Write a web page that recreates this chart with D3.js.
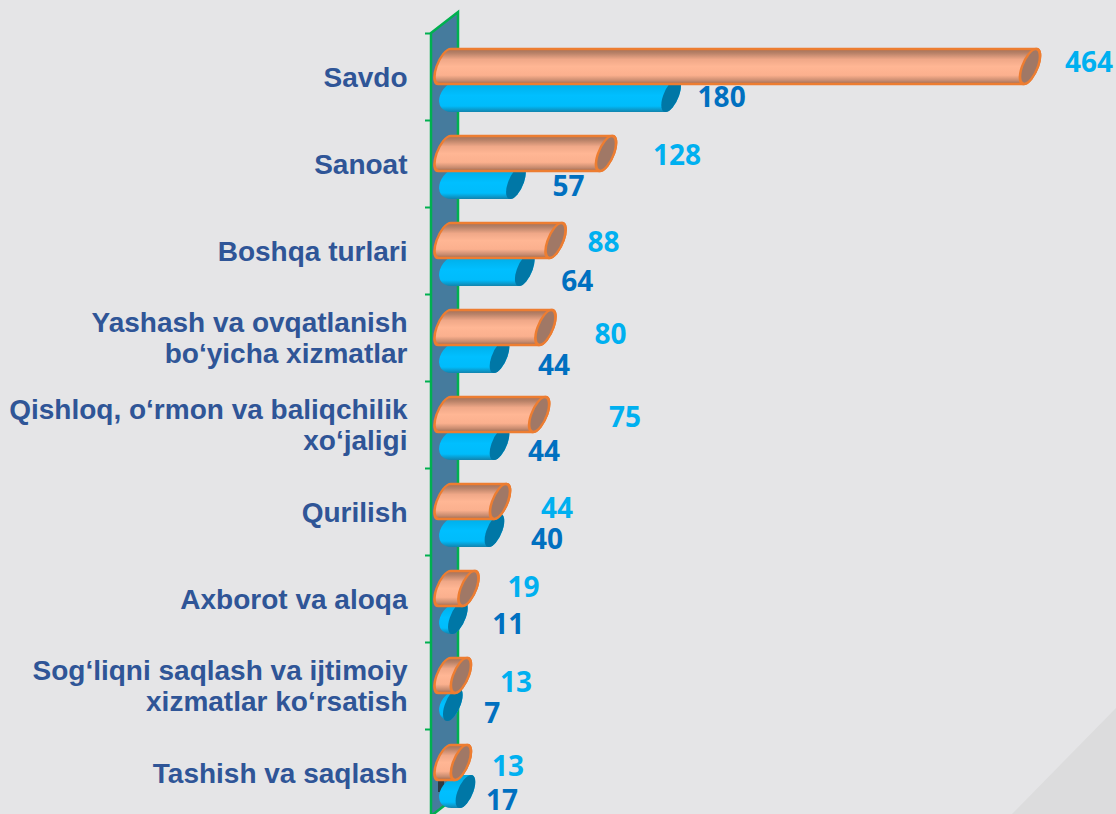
<!DOCTYPE html>
<html>
<head>
<meta charset="utf-8">
<script src="https://cdnjs.cloudflare.com/ajax/libs/d3/7.8.5/d3.min.js"></script>
<style>
  html, body { margin: 0; padding: 0; background: #e5e5e7; overflow: hidden; }
  svg { display: block; }
</style>
</head>
<body>
<svg id="chart" width="1116" height="814"></svg>
<script>
const categories = [
  ["Savdo"],
  ["Sanoat"],
  ["Boshqa turlari"],
  ["Yashash va ovqatlanish", "bo‘yicha xizmatlar"],
  ["Qishloq, o‘rmon va baliqchilik", "xo‘jaligi"],
  ["Qurilish"],
  ["Axborot va aloqa"],
  ["Sog‘liqni saqlash va ijtimoiy", "xizmatlar ko‘rsatish"],
  ["Tashish va saqlash"]
];
const orangeValues = [464, 128, 88, 80, 75, 44, 19, 13, 13];
const blueValues = [180, 57, 64, 44, 44, 40, 11, 7, 17];

// labels were placed by hand in the original, so they need nudging
const orangeNudge = [[59, -5], [71, 1], [48, 1], [65, 6], [86, 2], [57, 6], [55, -2], [55, 6], [47, 3]];
const blueNudge = [[50, 1], [52, 3], [52, 11], [54, 8], [44, 7], [52, 8], [50, 6], [39, 8], [36, 8]];

const width = 1116, height = 814;
const svg = d3.select("#chart");

const x = d3.scaleLinear().domain([0, 464]).range([444.5, 1030]);
const y = d3.scaleBand().domain(d3.range(categories.length)).range([33, 816]);
const tickY = d3.scaleLinear().domain([0, categories.length]).range([33, 816]);

const defs = svg.append("defs");

function gradient(id, stops) {
  const g = defs.append("linearGradient").attr("id", id)
    .attr("x1", 0).attr("y1", 0).attr("x2", 0).attr("y2", 1);
  stops.forEach((s) => g.append("stop").attr("offset", s[0]).attr("stop-color", s[1]));
}
gradient("orangeBody", [[0, "#a0705a"], [0.12, "#b98268"], [0.3, "#f0a888"], [0.5, "#ffb694"], [0.75, "#fbb08e"], [0.9, "#c98c70"], [1, "#9c6c56"]]);
gradient("blueBody", [[0, "#00a8e0"], [0.5, "#00bfff"], [0.82, "#00bcfb"], [1, "#1283ad"]]);

// background corner
svg.append("rect").attr("width", width).attr("height", height).attr("fill", "#e5e5e7");
svg.append("path")
  .attr("d", `M${width},708 L${width},${height} L1012,${height} Z`)
  .attr("fill", "#dcdcdd");

// the 3d wall behind the bars
const wallX = 431, wallDepth = 27, wallRise = 21;
svg.append("path")
  .attr("d", `M${wallX},${tickY(0)} L${wallX + wallDepth},${tickY(0) - wallRise} `
    + `L${wallX + wallDepth},${tickY(categories.length) - wallRise} L${wallX},${tickY(categories.length)} Z`)
  .attr("fill", "#457b9d")
  .attr("stroke", "#00b050")
  .attr("stroke-width", 2.5);

const axis = svg.append("g")
  .attr("transform", `translate(${wallX},0)`)
  .call(d3.axisLeft(tickY).tickValues(d3.range(categories.length + 1)).tickFormat("").tickSize(6));
axis.select(".domain").remove();
axis.selectAll("line").attr("stroke", "#00b050").attr("stroke-width", 2);

// category labels
const labels = svg.append("g").selectAll("text")
  .data(categories)
  .enter().append("text")
  .attr("text-anchor", "end")
  .attr("font-family", "'Liberation Sans', Arial, sans-serif")
  .attr("font-weight", "bold")
  .attr("font-size", "28px")
  .attr("fill", "#2f5597");
labels.each(function (lines, i) {
  const mid = y(i) + y.bandwidth() / 2 + 10;
  d3.select(this).selectAll("tspan")
    .data(lines)
    .enter().append("tspan")
    .attr("x", 407.5)
    .attr("y", (d, j) => mid + (j - (lines.length - 1) / 2) * 31)
    .text((d) => d);
});

// dark sliver the original shows behind the last blue bar
svg.append("rect")
  .attr("x", 438)
  .attr("y", y(categories.length - 1) + 37)
  .attr("width", 6)
  .attr("height", 26)
  .attr("fill", "#2e3a42");

// a bar is a cylinder: skewed so both round ends lean the same way
const skew = -19, capRx = 8;

function drawCylinders(values, opts) {
  const g = svg.append("g").selectAll("g")
    .data(values)
    .enter().append("g")
    .attr("transform", (d, i) => `translate(${opts.x0},${y(i) + opts.offset + opts.h / 2}) skewX(${skew})`);
  const r = opts.h / 2;
  const len = (d) => x(d) + opts.shift - opts.x0;
  g.append("path")
    .attr("d", (d) => `M0,${-r} L${len(d)},${-r} A${capRx},${r} 0 0 1 ${len(d)},${r} L0,${r} A${opts.tailRx},${r} 0 0 1 0,${-r} Z`)
    .attr("fill", opts.body)
    .attr("stroke", opts.stroke)
    .attr("stroke-width", opts.strokeWidth);
  g.append("ellipse")
    .attr("cx", len)
    .attr("rx", capRx)
    .attr("ry", r)
    .attr("fill", opts.cap)
    .attr("stroke", opts.stroke)
    .attr("stroke-width", opts.strokeWidth);
}

drawCylinders(blueValues, { x0: 457, shift: -0.5, tailRx: 17, offset: 46, h: 33, body: "url(#blueBody)", cap: "#0077a6", stroke: "none", strokeWidth: 0 });
drawCylinders(orangeValues, { x0: 444.5, shift: 0, tailRx: 8, offset: 16, h: 35, body: "url(#orangeBody)", cap: "#a07866", stroke: "#ed7d31", strokeWidth: 2.5 });

function drawValues(values, nudge, offset, color) {
  svg.append("g").selectAll("text")
    .data(values)
    .enter().append("text")
    .attr("x", (d, i) => x(d) + nudge[i][0])
    .attr("y", (d, i) => y(i) + offset + nudge[i][1] + 10)
    .attr("text-anchor", "middle")
    .attr("font-family", "'Open Sans', sans-serif")
    .attr("font-weight", "bold")
    .attr("font-size", "28px")
    .attr("fill", color)
    .text((d) => d);
}
drawValues(orangeValues, orangeNudge, 33.5, "#00b0f0");
drawValues(blueValues, blueNudge, 62.5, "#0070c0");
</script>
</body>
</html>
